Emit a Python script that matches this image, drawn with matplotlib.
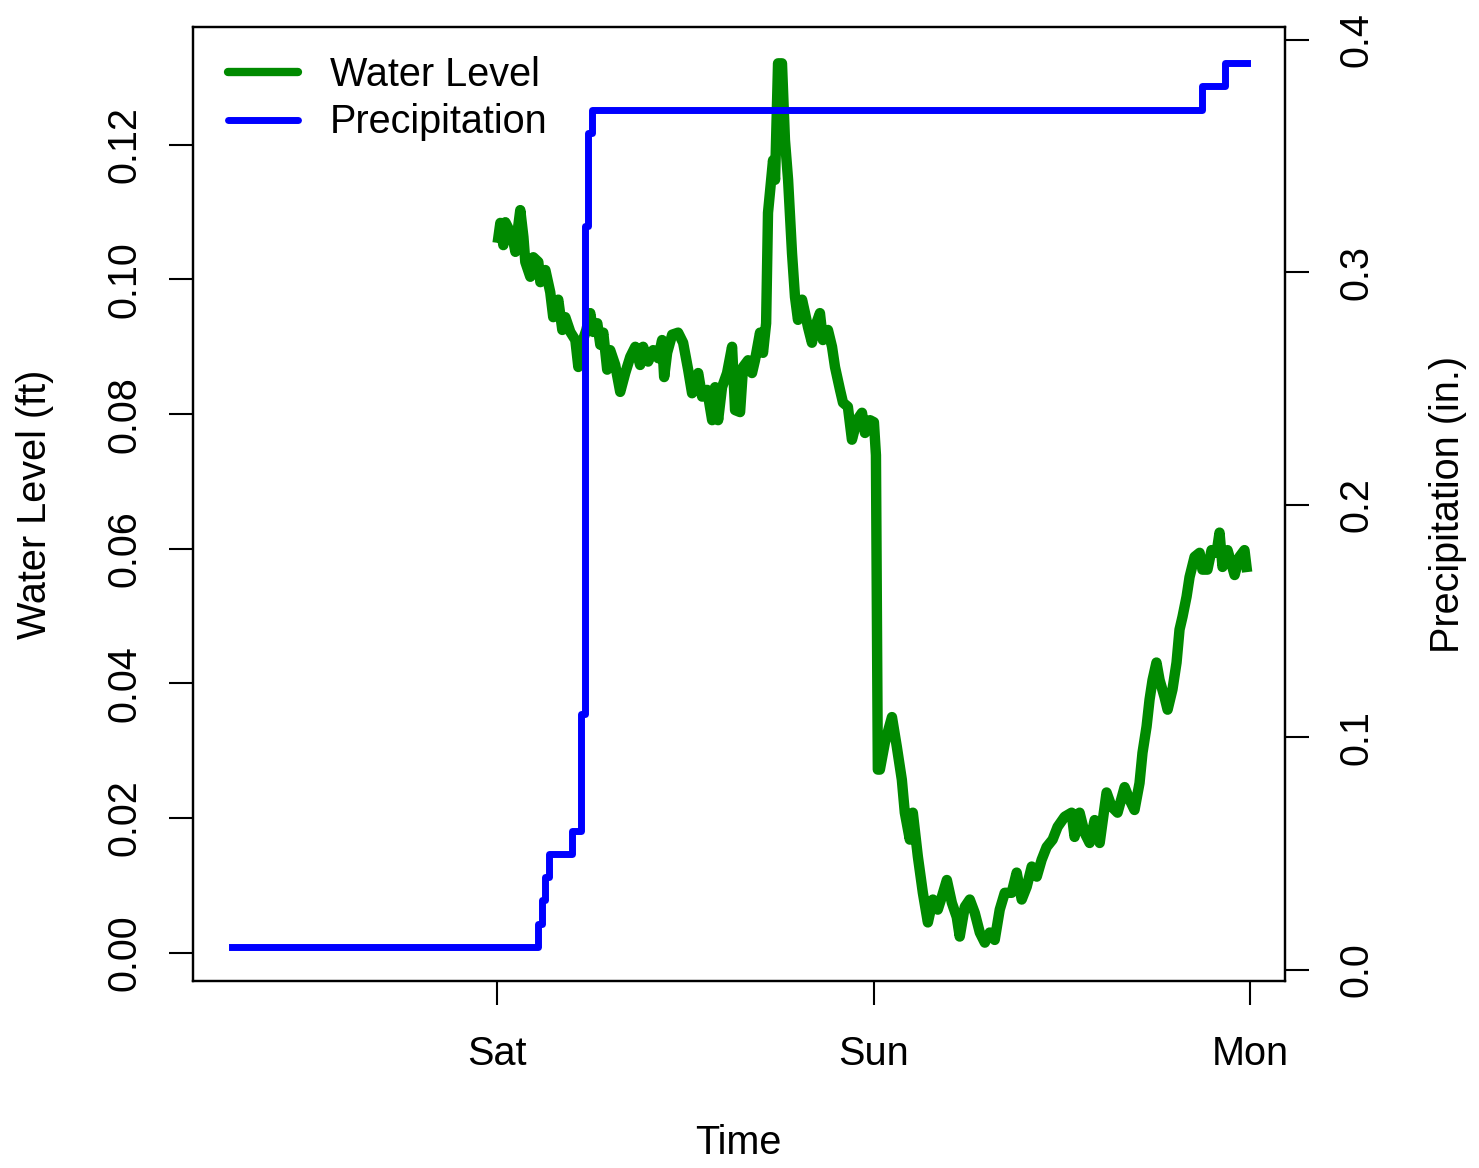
import matplotlib.pyplot as plt
from matplotlib.lines import Line2D

plt.rcParams['font.family'] = ['Liberation Sans', 'DejaVu Sans']

# hours after Saturday 00:00
level_hours = [
    0.06, 0.19, 0.38, 0.51, 0.70, 0.95, 1.15, 1.34, 1.46, 1.66,
    1.78, 2.10, 2.29, 2.61, 2.74, 3.06, 3.37, 3.56, 3.88, 4.14,
    4.33, 4.65, 4.97, 5.16, 5.41, 5.67, 5.92, 6.11, 6.37, 6.56,
    6.75, 7.00, 7.19, 7.51, 7.83, 8.15, 8.47, 8.79, 9.10, 9.29,
    9.61, 9.93, 10.25, 10.50, 10.63, 10.82, 11.14, 11.52, 11.84, 12.16,
    12.41, 12.80, 13.05, 13.37, 13.69, 13.88, 14.07, 14.32, 14.64, 14.96,
    15.15, 15.47, 15.66, 15.98, 16.23, 16.42, 16.74, 16.93, 17.13, 17.25,
    17.57, 17.70, 17.89, 18.14, 18.33, 18.53, 18.78, 18.97, 19.16, 19.42,
    19.61, 19.80, 20.05, 20.24, 20.56, 20.75, 21.07, 21.33, 21.52, 21.84,
    22.03, 22.34, 22.60, 22.92, 23.24, 23.43, 23.75, 24.00, 24.13, 24.25,
    24.38, 24.70, 25.15, 25.46, 25.78, 25.97, 26.29, 26.48, 26.80, 27.12,
    27.44, 27.76, 28.07, 28.33, 28.65, 28.97, 29.28, 29.47, 29.79, 30.11,
    30.43, 30.75, 31.07, 31.38, 31.70, 32.02, 32.34, 32.78, 33.10, 33.42,
    33.74, 34.06, 34.38, 34.69, 35.01, 35.39, 35.71, 36.16, 36.60, 36.79,
    37.11, 37.43, 37.75, 38.07, 38.39, 38.83, 39.15, 39.53, 39.98, 40.30,
    40.61, 40.93, 41.12, 41.38, 41.57, 41.76, 42.01, 42.21, 42.52, 42.72,
    43.03, 43.29, 43.48, 43.67, 43.93, 44.12, 44.44, 44.76, 44.94, 45.26,
    45.52, 45.84, 46.03, 46.22, 46.54, 46.99, 47.30, 47.62, 47.75,
]
water_level = [
    0.1062, 0.1084, 0.1051, 0.1085, 0.1076, 0.1065, 0.1041, 0.1081, 0.1103, 0.1063,
    0.1026, 0.1004, 0.1033, 0.1026, 0.0996, 0.1014, 0.0981, 0.0944, 0.0970, 0.0925,
    0.0944, 0.0922, 0.0910, 0.0870, 0.0907, 0.0925, 0.0950, 0.0922, 0.0935, 0.0903,
    0.0921, 0.0866, 0.0895, 0.0873, 0.0833, 0.0861, 0.0885, 0.0900, 0.0873, 0.0900,
    0.0878, 0.0895, 0.0883, 0.0910, 0.0855, 0.0891, 0.0918, 0.0921, 0.0906, 0.0866,
    0.0831, 0.0861, 0.0826, 0.0836, 0.0791, 0.0840, 0.0791, 0.0840, 0.0861, 0.0900,
    0.0806, 0.0803, 0.0870, 0.0880, 0.0861, 0.0880, 0.0921, 0.0891, 0.0935, 0.1099,
    0.1177, 0.1148, 0.1321, 0.1321, 0.1207, 0.1148, 0.1039, 0.0974, 0.0940, 0.0970,
    0.0950, 0.0929, 0.0906, 0.0929, 0.0950, 0.0910, 0.0925, 0.0900, 0.0870, 0.0836,
    0.0817, 0.0811, 0.0762, 0.0791, 0.0802, 0.0772, 0.0791, 0.0788, 0.0739, 0.0272,
    0.0272, 0.0312, 0.0350, 0.0306, 0.0257, 0.0208, 0.0168, 0.0208, 0.0143, 0.0089,
    0.0045, 0.0079, 0.0064, 0.0083, 0.0108, 0.0074, 0.0053, 0.0024, 0.0068, 0.0079,
    0.0059, 0.0030, 0.0015, 0.0030, 0.0019, 0.0064, 0.0089, 0.0089, 0.0119, 0.0079,
    0.0098, 0.0128, 0.0113, 0.0138, 0.0157, 0.0168, 0.0187, 0.0202, 0.0208, 0.0172,
    0.0208, 0.0178, 0.0163, 0.0197, 0.0163, 0.0238, 0.0217, 0.0208, 0.0246, 0.0227,
    0.0212, 0.0252, 0.0297, 0.0336, 0.0376, 0.0405, 0.0431, 0.0405, 0.0380, 0.0361,
    0.0391, 0.0431, 0.0480, 0.0499, 0.0529, 0.0558, 0.0588, 0.0594, 0.0569, 0.0569,
    0.0598, 0.0594, 0.0624, 0.0573, 0.0598, 0.0561, 0.0588, 0.0598, 0.0573,
]

# cumulative rainfall, one entry per gauge tip
precip_hours = [-16.9, 2.6, 2.85, 3.05, 3.3, 4.75, 5.3, 5.6, 5.8, 6.05, 44.9, 46.4, 47.8]
precip = [0.01, 0.02, 0.03, 0.04, 0.05, 0.06, 0.11, 0.32, 0.36, 0.37, 0.38, 0.39, 0.39]

day_ticks = [0, 24, 48]
day_labels = ['Sat', 'Sun', 'Mon']

green = '#008a00'
blue = '#0000ff'
fs = 28.5

fig = plt.figure(figsize=(14.79, 11.68), dpi=100)
ax = fig.add_axes([0.1305, 0.1601, 0.7383, 0.8168])
ax2 = ax.twinx()

ax.plot(level_hours, water_level, color=green, lw=7.5, solid_joinstyle='round')
ax2.plot(precip_hours, precip, color=blue, lw=5, drawstyle='steps-post')

ax.set_xlim(-19.4, 50.2)
ax.set_ylim(-0.0042, 0.1375)
ax2.set_ylim(-0.0047, 0.4055)

ax.set_xticks(day_ticks)
ax.set_xticklabels(day_labels)
ax.set_yticks([0, 0.02, 0.04, 0.06, 0.08, 0.10, 0.12])
ax.set_yticklabels(['0.00', '0.02', '0.04', '0.06', '0.08', '0.10', '0.12'],
                   rotation=90, va='center')
ax2.set_yticks([0, 0.1, 0.2, 0.3, 0.4])
ax2.set_yticklabels(['0.0', '0.1', '0.2', '0.3', '0.4'], rotation=90, va='center')

for a in (ax, ax2):
    for s in a.spines.values():
        s.set_linewidth(1.6)
    a.tick_params(length=17, width=1.5, labelsize=fs, direction='out')
ax.tick_params(axis='y', pad=19)
ax.tick_params(axis='x', pad=22)
ax2.tick_params(axis='y', pad=21)

fig.text(0.024, 0.568, 'Water Level (ft)', rotation=90, ha='center', va='center', fontsize=fs)
fig.text(0.979, 0.568, 'Precipitation (in.)', rotation=90, ha='center', va='center', fontsize=fs)
fig.text(0.4995, 0.021, 'Time', ha='center', va='center', fontsize=fs)

handles = [Line2D([], [], color=green, lw=6, solid_capstyle='round'),
           Line2D([], [], color=blue, lw=5, solid_capstyle='round')]
ax2.legend(handles, ['Water Level', 'Precipitation'], loc='upper left',
           bbox_to_anchor=(0.032, 0.97), frameon=False, fontsize=fs,
           handlelength=1.78, handletextpad=0.8, labelspacing=0.25,
           borderpad=0, borderaxespad=0)

fig.savefig('out.png', dpi=100)
